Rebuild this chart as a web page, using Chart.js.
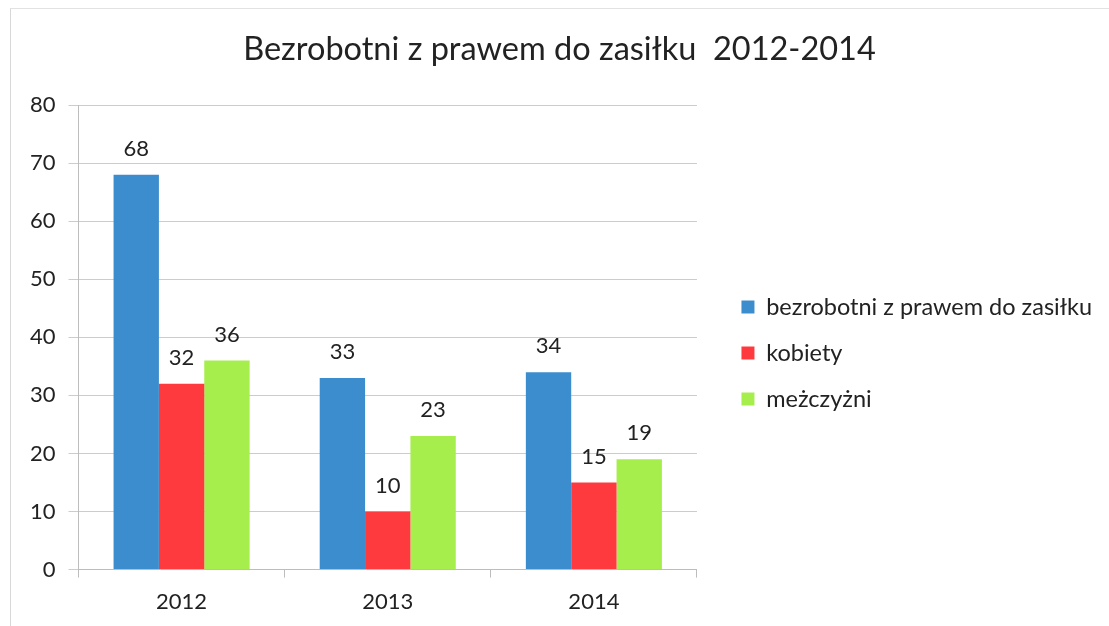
<!DOCTYPE html>
<html>
<head>
<meta charset="utf-8">
<script src="https://cdn.jsdelivr.net/npm/chart.js@4"></script>
<style>
  html, body { margin: 0; padding: 0; background: #fff; }
  #wrap { position: relative; width: 1109px; height: 626px; }
  #frame { position: absolute; left: 10px; top: 8px; right: 0; bottom: 0; border-left: 1px solid #d8d8d8; border-top: 1px solid #e2e2e2; pointer-events: none; }
</style>
</head>
<body>
<div id="wrap">
  <canvas id="chart" width="1109" height="626"></canvas>
  <div id="frame"></div>
</div>
<script>
// dane
const years = ["2012", "2013", "2014"];
const bezrobotni = [68, 33, 34];
const kobiety = [32, 10, 15];
const mezczyzni = [36, 23, 19];
const yTicks = [0, 10, 20, 30, 40, 50, 60, 70, 80];

const fontFam = "Lato, 'Open Sans', sans-serif";
const textCol = "#222";

// etykiety nad slupkami
const valueLabels = {
  id: "valueLabels",
  afterDatasetsDraw(chart) {
    const ctx = chart.ctx;
    ctx.save();
    ctx.font = "22px " + fontFam;
    ctx.fillStyle = textCol;
    ctx.textAlign = "center";
    ctx.textBaseline = "middle";
    chart.data.datasets.forEach((ds, i) => {
      chart.getDatasetMeta(i).data.forEach((bar, j) => {
        ctx.fillText(ds.data[j], bar.x, bar.y - 26);
      });
    });
    ctx.restore();
  }
};

let ctx = document.getElementById("chart").getContext("2d");

const chart = new Chart(ctx, {
  type: "bar",
  data: {
    labels: years,
    datasets: [
      { label: "bezrobotni z prawem do zasiłku", data: bezrobotni, backgroundColor: "#3c8dcd" },
      { label: "kobiety", data: kobiety, backgroundColor: "#ff3a3e" },
      { label: "meżczyżni", data: mezczyzni, backgroundColor: "#a6ee4c" }
    ]
  },
  options: {
    responsive: false,
    animation: false,
    layout: { padding: { left: 17, right: 7, top: 20, bottom: 0 } },
    datasets: { bar: { categoryPercentage: 0.66, barPercentage: 1 } },
    plugins: {
      title: {
        display: true,
        text: "Bezrobotni z prawem do zasiłku  2012-2014",
        color: textCol,
        font: { family: fontFam, size: 32.5, weight: "normal" },
        padding: { top: 10, bottom: 36 }
      },
      legend: {
        position: "right",
        align: "center",
        maxWidth: 460,
        title: { display: true, text: " ", font: { size: 10 }, padding: 24 },
        labels: {
          color: textCol,
          font: { family: fontFam, size: 23.5 },
          boxWidth: 13,
          boxHeight: 13,
          padding: 22.5
        }
      },
      tooltip: { enabled: false }
    },
    scales: {
      x: {
        grid: { display: true, drawOnChartArea: false, offset: true, tickLength: 8, color: "#bdbdbd" },
        border: { color: "#bdbdbd" },
        ticks: { color: textCol, font: { family: fontFam, size: 22 }, padding: 11 }
      },
      y: {
        min: 0,
        max: 80,
        afterBuildTicks(axis) { axis.ticks = yTicks.map(v => ({ value: v })); },
        grid: { color: "#cccccc", tickLength: 10 },
        border: { color: "#bdbdbd" },
        ticks: { color: textCol, font: { family: fontFam, size: 22 }, padding: 13 }
      },
      // pusty odstep miedzy wykresem a legenda
      gap: {
        position: "right",
        type: "linear",
        grid: { display: false },
        border: { display: false },
        ticks: { display: false },
        afterFit(scale) { scale.width = 22; }
      }
    }
  },
  plugins: [valueLabels]
});
</script>
</body>
</html>
